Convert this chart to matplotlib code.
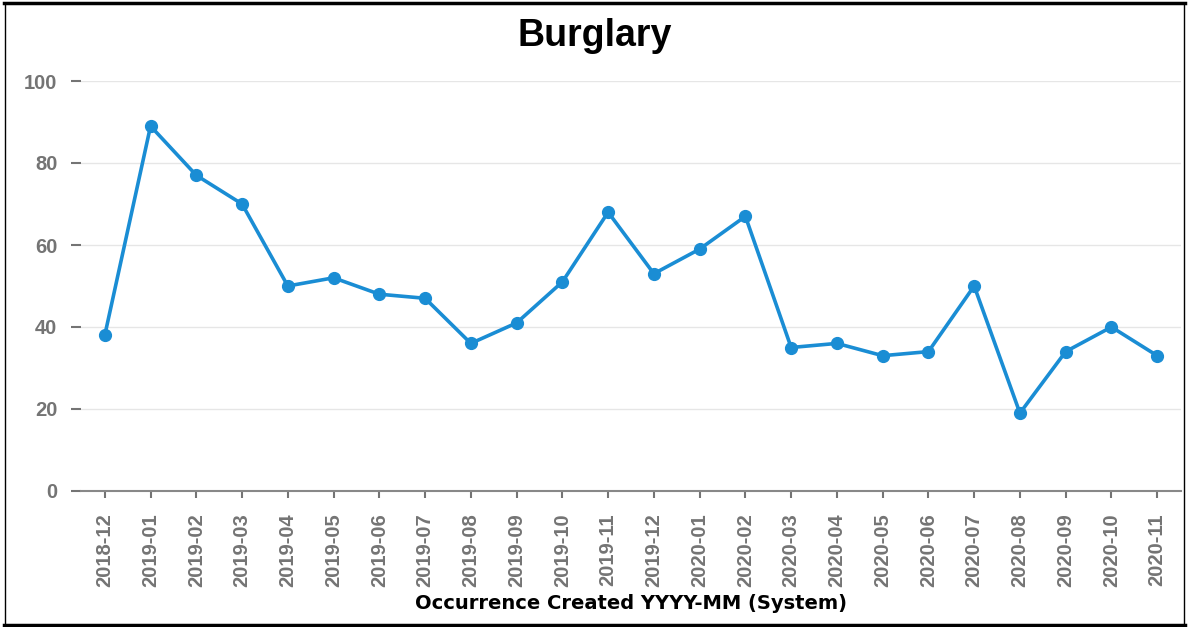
import matplotlib
matplotlib.use("Agg")
import matplotlib.pyplot as plt
from matplotlib.lines import Line2D
import numpy as np

# ── data ──────────────────────────────────────────────────────────────────────
months = ["2018-12", "2019-01", "2019-02", "2019-03", "2019-04", "2019-05",
          "2019-06", "2019-07", "2019-08", "2019-09", "2019-10", "2019-11",
          "2019-12", "2020-01", "2020-02", "2020-03", "2020-04", "2020-05",
          "2020-06", "2020-07", "2020-08", "2020-09", "2020-10", "2020-11"]
counts = [38, 89, 77, 70, 50, 52, 48, 47, 36, 41, 51, 68,
          53, 59, 67, 35, 36, 33, 34, 50, 19, 34, 40, 33]
y_ticks = [0, 20, 40, 60, 80, 100]

TICK_GRAY = "#747474"
LINE_BLUE = "#1A8DD4"

W, H = 1189, 627
fig = plt.figure(figsize=(W / 100, H / 100), dpi=100)
ax = fig.add_axes([81 / W, 1 - 491 / H, (1181 - 81) / W, (491 - 81) / H])

x = np.arange(len(months))
ax.plot(x, counts, color=LINE_BLUE, linewidth=2.6, marker="o",
        markersize=8.5, zorder=3, clip_on=False)

ax.set_xlim(-0.52, len(months) - 0.48)
ax.set_ylim(0, 100)
ax.set_yticks(y_ticks)
ax.set_xticks(x)
ax.set_xticklabels(months, rotation=90)

for lab in ax.get_xticklabels() + ax.get_yticklabels():
    lab.set_family("Liberation Sans")
    lab.set_fontweight("bold")
    lab.set_fontsize(14.5)
    lab.set_color(TICK_GRAY)

ax.tick_params(axis="y", length=7, width=1.5, color=TICK_GRAY, pad=10)
ax.tick_params(axis="x", length=5, width=1.5, color=TICK_GRAY, pad=11)

ax.grid(axis="y", color="#e6e6e6", linewidth=1, zorder=0)
for side in ["top", "right", "left"]:
    ax.spines[side].set_visible(False)
ax.spines["bottom"].set_color("#888888")
ax.spines["bottom"].set_linewidth(1.5)

ax.set_xlabel("Occurrence Created YYYY-MM (System)", fontsize=14,
              fontweight="bold", family="DejaVu Sans", color="black", labelpad=5)
fig.suptitle("Burglary", fontsize=27, fontweight="bold",
             family="Liberation Sans", y=1 - 18 / H, va="top")

# black frame around the whole picture
def fx(px): return px / W
def fy(py): return 1 - py / H
fig.add_artist(Line2D([fx(4), fx(1185)], [fy(3), fy(3)], color="black", linewidth=2.5))
fig.add_artist(Line2D([fx(4), fx(1185)], [fy(625), fy(625)], color="black", linewidth=2.5))
fig.add_artist(Line2D([fx(5), fx(5)], [fy(3), fy(625)], color="black", linewidth=1))
fig.add_artist(Line2D([fx(1184), fx(1184)], [fy(3), fy(625)], color="black", linewidth=1))

fig.savefig("out.png", dpi=100)
